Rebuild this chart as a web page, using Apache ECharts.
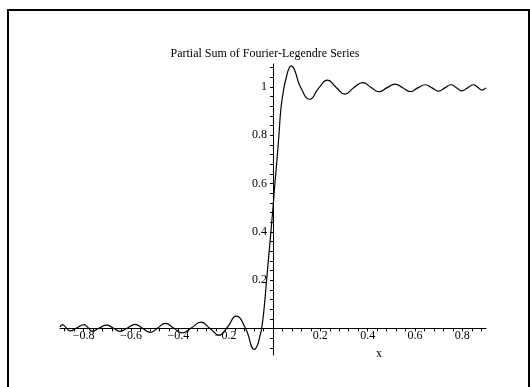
<!DOCTYPE html>
<html>
<head>
<meta charset="utf-8">
<script src="https://cdn.jsdelivr.net/npm/echarts@6/dist/echarts.min.js"></script>
<style>
  html, body { margin: 0; padding: 0; background: #fff; }
  #chart { width: 530px; height: 387px; }
</style>
</head>
<body>
<div id="chart"></div>
<script>
// points (x, value)
const xValues = [
  -0.900, -0.890, -0.874, -0.858, -0.828, -0.798, -0.781, -0.764, -0.734, -0.703,
  -0.675, -0.647, -0.615, -0.583, -0.552, -0.518, -0.487, -0.455, -0.420, -0.384,
  -0.344, -0.304, -0.266, -0.228, -0.192, -0.156, -0.116, -0.078, -0.066, -0.057,
  -0.048, -0.037, -0.027, -0.017, -0.008, 0.000, 0.008, 0.017, 0.025, 0.034,
  0.047, 0.057, 0.066, 0.077, 0.090, 0.116, 0.156, 0.193, 0.230, 0.267,
  0.304, 0.342, 0.379, 0.413, 0.447, 0.482, 0.516, 0.548, 0.580, 0.612,
  0.643, 0.672, 0.700, 0.726, 0.752, 0.775, 0.798, 0.823, 0.847, 0.866,
  0.882, 0.900
];
const sumValues = [
  0.006, 0.016, 0.003, -0.010, 0.003, 0.016, 0.003, -0.011, 0.002, 0.014,
  0.002, -0.012, 0.002, 0.017, 0.001, -0.016, 0.002, 0.021, 0.002, -0.018,
  0.003, 0.026, 0.000, -0.028, 0.006, 0.051, 0.000, -0.087, -0.070, -0.038,
  0.000, 0.090, 0.200, 0.310, 0.410, 0.500, 0.600, 0.700, 0.800, 0.915,
  1.000, 1.042, 1.073, 1.087, 1.073, 1.000, 0.949, 0.995, 1.028, 0.998,
  0.970, 0.998, 1.018, 0.999, 0.980, 0.997, 1.012, 0.997, 0.981, 0.996,
  1.009, 0.996, 0.983, 0.996, 1.009, 0.997, 0.984, 0.997, 1.009, 0.998,
  0.987, 0.996
];

const xLabels = [-0.8, -0.6, -0.4, -0.2, 0.2, 0.4, 0.6, 0.8];
const yLabels = [0.2, 0.4, 0.6, 0.8, 1];

// small ticks every 0.04 like the original plot
const xTicks = [];
for (let k = -22; k <= 22; k++) xTicks.push(+(k * 0.04).toFixed(2));
const yTicks = [];
for (let k = -2; k <= 27; k++) yTicks.push(+(k * 0.04).toFixed(2));

const serif = 'Liberation Serif, Times New Roman, serif';
const fmt = (v) => (v < 0 ? '\u2212' + Math.abs(v) : String(v));

const chart = echarts.init(document.getElementById('chart'));

chart.setOption({
  animation: false,
  backgroundColor: '#fff',
  title: {
    text: 'Partial Sum of Fourier-Legendre Series',
    left: 'center',
    top: 43,
    textStyle: { fontFamily: serif, fontSize: 12, fontWeight: 'normal', color: '#000' },
  },
  grid: { left: 60, right: 44, top: 64, bottom: 32 },
  xAxis: {
    type: 'value',
    min: -0.9,
    max: 0.9,
    splitLine: { show: false },
    axisLine: { onZero: true, lineStyle: { color: '#000', width: 1 } },
    axisTick: { length: 3, customValues: xTicks, lineStyle: { color: '#000' } },
    // labels stay at the grid edge, pull them up to the zero line
    axisLabel: {
      customValues: xLabels,
      formatter: fmt,
      margin: -25,
      fontFamily: serif,
      fontSize: 12,
      color: '#000',
    },
  },
  yAxis: {
    type: 'value',
    min: -0.11,
    max: 1.095,
    splitLine: { show: false },
    axisLine: { onZero: true, lineStyle: { color: '#000', width: 1 } },
    axisTick: { length: 3, customValues: yTicks, lineStyle: { color: '#000' } },
    axisLabel: {
      customValues: yLabels,
      formatter: fmt,
      margin: -207,
      fontFamily: serif,
      fontSize: 12,
      color: '#000',
    },
  },
  series: [{
    type: 'line',
    data: xValues.map((x, i) => [x, sumValues[i]]),
    smooth: 0.5,
    showSymbol: false,
    lineStyle: { color: '#000', width: 1.2 },
  }],
  graphic: [
    {
      type: 'rect',
      shape: { x: 8, y: 10, width: 521, height: 400 },
      style: { fill: 'none', stroke: '#000', lineWidth: 2 },
    },
    {
      type: 'text',
      x: 379,
      y: 354,
      style: {
        text: 'x',
        font: '12px ' + serif,
        fill: '#000',
        align: 'center',
        verticalAlign: 'middle',
      },
    },
  ],
});
</script>
</body>
</html>
